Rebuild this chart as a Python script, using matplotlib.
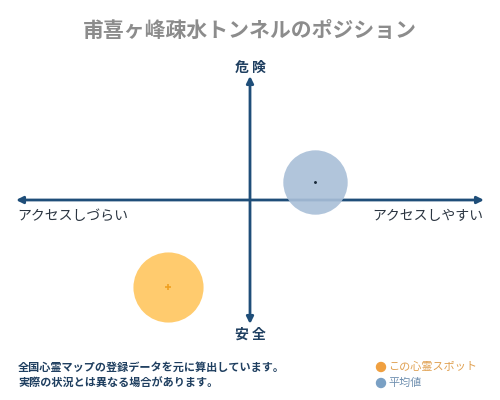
import matplotlib
matplotlib.use("Agg")
import matplotlib.pyplot as plt

plt.rcParams['font.family'] = ['Noto Sans CJK JP', 'DejaVu Sans']

title = "甫喜ヶ峰疎水トンネルのポジション"
x_labels = ["アクセスしづらい", "アクセスしやすい"]
y_labels = ["安 全", "危 険"]
notes = ["全国心霊マップの登録データを元に算出しています。",
         "実際の状況とは異なる場合があります。"]
legend_labels = ["この心霊スポット", "平均値"]

# positions on access (x) / danger (y), range -1..1
spot_x, spot_y = -0.35, -0.70
avg_x, avg_y = 0.278, 0.145

navy = "#1f4e79"
orange = "#ffc966"
blue = "#a9bfd8"

fig = plt.figure(figsize=(5, 4), dpi=100)
fig.patch.set_facecolor("white")

# axes area in pixels: x 16..484, y 76..324 (from top)
ax = fig.add_axes([16 / 500, 1 - 324 / 400, 468 / 500, 248 / 400])
ax.set_xlim(-1, 1)
ax.set_ylim(-1, 1)
ax.axis("off")

# axes arrows
ax.annotate("", xy=(1, 0), xytext=(-1, 0),
            arrowprops=dict(arrowstyle="<|-|>", color=navy, lw=2,
                            mutation_scale=10, shrinkA=0, shrinkB=0))
ax.annotate("", xy=(0, 1), xytext=(0, -1),
            arrowprops=dict(arrowstyle="<|-|>", color=navy, lw=2,
                            mutation_scale=10, shrinkA=0, shrinkB=0))

# bubbles
ax.scatter([avg_x], [avg_y], s=2150, color=blue, alpha=0.9, zorder=3, linewidths=0)
ax.scatter([avg_x], [avg_y], s=1.2, color="#1a2a3a", zorder=4)
ax.scatter([spot_x], [spot_y], s=2550, color=orange, alpha=0.95, zorder=3, linewidths=0)
ax.scatter([spot_x], [spot_y], s=18, marker="+", color="#f0a020", zorder=4, linewidths=1.2)

# texts
fig.text(0.5, 1 - 30 / 400, title, ha="center", va="center",
         fontsize=15, fontweight="bold", color="#8c8c8c")
fig.text(0.5, 1 - 68 / 400, y_labels[1], ha="center", va="center",
         fontsize=10, fontweight="bold", color="#1f3f60")
fig.text(0.5, 1 - 335 / 400, y_labels[0], ha="center", va="center",
         fontsize=10, fontweight="bold", color="#1f3f60")
fig.text(17 / 500, 1 - 216 / 400, x_labels[0], ha="left", va="center",
         fontsize=10, color="#2a3440")
fig.text(483 / 500, 1 - 216 / 400, x_labels[1], ha="right", va="center",
         fontsize=10, color="#2a3440")

fig.text(18 / 500, 1 - 367 / 400, notes[0], ha="left", va="center",
         fontsize=8, fontweight="bold", color="#1f3f60")
fig.text(18 / 500, 1 - 383 / 400, notes[1], ha="left", va="center",
         fontsize=8, fontweight="bold", color="#1f3f60")

# legend
fig.patches.append(matplotlib.patches.Ellipse((381 / 500, 1 - 367 / 400), 9 / 500, 9 / 400,
                   transform=fig.transFigure, color="#f0a040",
                   figure=fig))
fig.text(388 / 500, 1 - 367 / 400, legend_labels[0], ha="left", va="center",
         fontsize=8, color="#e0a050")
fig.patches.append(matplotlib.patches.Ellipse((381 / 500, 1 - 383 / 400), 9 / 500, 9 / 400,
                   transform=fig.transFigure, color="#7aa0c4",
                   figure=fig))
fig.text(388 / 500, 1 - 383 / 400, legend_labels[1], ha="left", va="center",
         fontsize=8, color="#7090b0")

fig.savefig("out.png", dpi=100)
